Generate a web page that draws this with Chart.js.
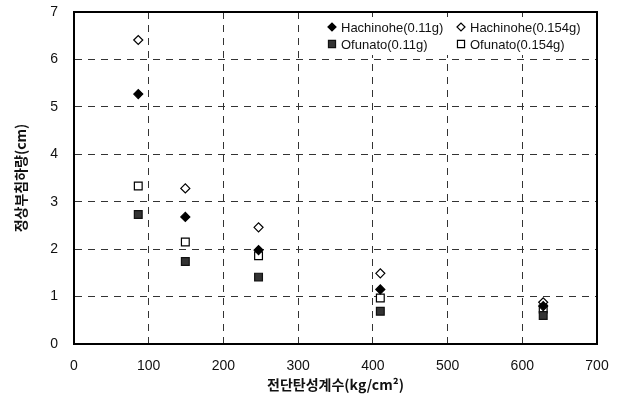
<!DOCTYPE html>
<html>
<head>
<meta charset="utf-8">
<script src="https://cdn.jsdelivr.net/npm/chart.js"></script>
<style>
  html, body { margin: 0; padding: 0; background: #fff; }
  #wrap { width: 619px; height: 403px; }
</style>
</head>
<body>
<div id="wrap"><canvas id="chart" width="619" height="403"></canvas></div>
<script>
// shear modulus (kg/cm2) for each test case
const modulus = [86, 149, 247, 410, 628];

// settlement at crest (cm)
const hachinohe011 = [5.27, 2.68, 1.98, 1.15, 0.80];
const hachinohe0154 = [6.41, 3.28, 2.46, 1.49, 0.88];
const ofunato011 = [2.73, 1.74, 1.41, 0.69, 0.60];
const ofunato0154 = [3.33, 2.15, 1.86, 0.97, 0.74];

const seriesLabels = ['Hachinohe(0.11g)', 'Hachinohe(0.154g)', 'Ofunato(0.11g)', 'Ofunato(0.154g)'];

const xTicks = [0, 100, 200, 300, 400, 500, 600, 700];
const yTicks = [0, 1, 2, 3, 4, 5, 6, 7];

const toPoints = ys => ys.map((y, i) => ({ x: modulus[i], y }));

const styles = [
    { pointStyle: 'rectRot', radius: 4.5, bg: '#000', border: '#000' },
    { pointStyle: 'rectRot', radius: 4.5, bg: '#fff', border: '#000' },
    { pointStyle: 'rect', radius: 5.5, bg: '#333', border: '#111' },
    { pointStyle: 'rect', radius: 5.5, bg: '#fff', border: '#000' }
];

const allData = [hachinohe011, hachinohe0154, ofunato011, ofunato0154];

const datasets = allData.map((ys, i) => ({
    label: seriesLabels[i],
    data: toPoints(ys),
    pointStyle: styles[i].pointStyle,
    pointRadius: styles[i].radius,
    pointBackgroundColor: styles[i].bg,
    pointBorderColor: styles[i].border,
    pointBorderWidth: 1.2,
    showLine: false
}));

// legend drawn inside the plot, two columns, plus the solid frame
const innerLegend = {
    id: 'innerLegend',
    afterDatasetsDraw(chart) {
        const ctx = chart.ctx;
        const a = chart.chartArea;
        ctx.save();
        ctx.fillStyle = '#fff';
        ctx.fillRect(322, 17, 256, 38);
        const cols = [332, 461];
        const rows = [27, 44];
        chart.data.datasets.forEach((ds, i) => {
            const cx = cols[i % 2];
            const cy = rows[Math.floor(i / 2)];
            ctx.fillStyle = ds.pointBackgroundColor;
            ctx.strokeStyle = ds.pointBorderColor;
            ctx.lineWidth = 1.2;
            Chart.helpers.drawPoint(ctx, {
                pointStyle: ds.pointStyle,
                radius: ds.pointStyle === 'rect' ? 5 : 4,
                borderWidth: 1.2
            }, cx, cy);
            ctx.fillStyle = '#111';
            ctx.font = '13px "Liberation Sans", Arial, sans-serif';
            ctx.textBaseline = 'middle';
            ctx.fillText(ds.label, cx + 9, cy + 1);
        });
        ctx.strokeStyle = '#000';
        ctx.lineWidth = 2;
        ctx.setLineDash([]);
        ctx.strokeRect(a.left, a.top, a.right - a.left, a.bottom - a.top);
        ctx.restore();
    }
};

const tickFont = { family: '"Liberation Sans", Arial, sans-serif', size: 14 };
const titleFont = { family: '"Noto Sans CJK KR", sans-serif', size: 14, weight: 'bold' };

new Chart(document.getElementById('chart'), {
    type: 'scatter',
    data: { datasets },
    options: {
        responsive: false,
        animation: false,
        layout: { padding: { left: 0, top: 12, right: 22, bottom: 0 } },
        plugins: {
            legend: { display: false },
            tooltip: { enabled: false }
        },
        scales: {
            x: {
                type: 'linear',
                min: 0,
                max: 700,
                afterBuildTicks: s => { s.ticks = xTicks.map(v => ({ value: v })); },
                afterFit: s => { s.height = 59; s.paddingLeft = 0; s.paddingRight = 0; },
                border: { display: true, color: '#000', width: 2, dash: [7, 6] },
                grid: { color: '#333', lineWidth: 1, drawTicks: false },
                ticks: { padding: 14, color: '#111', font: tickFont },
                title: {
                    display: true,
                    text: '전단탄성계수(kg/cm²)',
                    color: '#111',
                    padding: { top: 0, bottom: 10 },
                    font: titleFont
                }
            },
            y: {
                type: 'linear',
                min: 0,
                max: 7,
                afterBuildTicks: s => { s.ticks = yTicks.map(v => ({ value: v })); },
                afterFit: s => { s.width = 74; s.paddingTop = 0; s.paddingBottom = 0; },
                border: { display: true, color: '#000', width: 2, dash: [7, 6] },
                grid: { color: '#333', lineWidth: 1, drawTicks: false },
                ticks: { padding: 16, color: '#111', font: tickFont },
                title: {
                    display: true,
                    text: '정상부침하량(cm)',
                    color: '#111',
                    padding: { top: 12, bottom: 0 },
                    font: titleFont
                }
            }
        }
    },
    plugins: [innerLegend]
});
</script>
</body>
</html>
